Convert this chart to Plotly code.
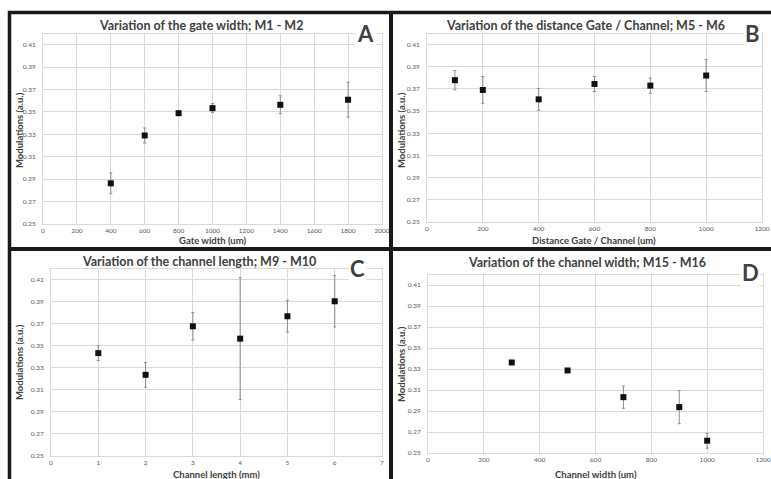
import plotly.graph_objects as go

W, H = 771, 479

# ---------------- data ----------------
a_x = [400, 600, 800, 1000, 1400, 1800]
a_y = [0.2863, 0.3290, 0.3489, 0.3534, 0.3564, 0.3609]
a_err = [0.0093, 0.0067, 0.0010, 0.0040, 0.0080, 0.0155]

b_x = [100, 200, 400, 600, 800, 1000]
b_y = [0.3779, 0.3691, 0.3606, 0.3745, 0.3730, 0.3821]
b_err = [0.0087, 0.0120, 0.0099, 0.0068, 0.0068, 0.0144]

c_x = [1, 2, 3, 4, 5, 6]
c_y = [0.3433, 0.3236, 0.3676, 0.3564, 0.3767, 0.3903]
c_err = [0.0067, 0.0112, 0.0124, 0.0553, 0.0144, 0.0233]

d_x = [300, 500, 700, 900, 1000]
d_y = [0.3362, 0.3286, 0.3032, 0.2937, 0.2617]
d_err = [0.0010, 0.0010, 0.0106, 0.0158, 0.0071]

titles = ["Variation of the gate width; M1 - M2",
          "Variation of the distance Gate / Channel; M5 - M6",
          "Variation of the channel length; M9 - M10",
          "Variation of the channel width; M15 - M16"]
letters = ["A", "B", "C", "D"]
x_titles = ["Gate width (um)", "Distance Gate / Channel (um)",
            "Channel length (mm)", "Channel width (um)"]
y_title = "Modulations (a.u.)"
x_ranges = [(0, 2000, 200), (0, 1200, 200), (0, 7, 1), (0, 1200, 200)]
y_range = (0.25, 0.42)
y_ticks = [0.25, 0.27, 0.29, 0.31, 0.33, 0.35, 0.37, 0.39, 0.41]

# ---------------- layout helpers ----------------
def fx(px):
    return px / W

def fy(py):
    return 1 - py / H

# plot-area boxes in pixels: left, right, top, bottom
boxes = [(43, 382, 33.5, 224), (427, 762, 33.5, 222),
         (51, 382, 268.5, 456), (428, 763, 274.5, 453)]
title_pos = [(201, 25), (585, 25), (199, 261), (587, 262)]
letter_pos = [(365, 34), (752, 34), (357, 268), (750, 272)]
xt_pos = [(213, 240.5), (594, 240.5), (216, 474), (596, 474)]
yt_pos = [(19, 130), (401, 130), (19, 362), (401, 364)]

FONT = "Lato"
TXT = "#404040"
GRID = "#d9d9d9"

fig = go.Figure()
series = [(a_x, a_y, a_err), (b_x, b_y, b_err), (c_x, c_y, c_err), (d_x, d_y, d_err)]
for i, (xs, ys, es) in enumerate(series):
    sfx = "" if i == 0 else str(i + 1)
    fig.add_trace(go.Scatter(
        x=xs, y=ys, mode="markers",
        marker=dict(symbol="square", size=6, color="#111111"),
        error_y=dict(type="data", array=es, visible=True, color="#8c8c8c",
                     thickness=1, width=1.5),
        xaxis="x" + sfx, yaxis="y" + sfx, showlegend=False, cliponaxis=False))

layout = dict(width=W, height=H, margin=dict(l=0, r=0, t=0, b=0, autoexpand=False),
              paper_bgcolor="white", plot_bgcolor="white",
              font=dict(family=FONT, color="#595959"))
annotations = []
shapes = []
for i in range(4):
    sfx = "" if i == 0 else str(i + 1)
    l, r, t, b = boxes[i]
    x0, x1, dx = x_ranges[i]
    xticks = [x0 + k * dx for k in range(int(round((x1 - x0) / dx)) + 1)]
    layout["xaxis" + sfx] = dict(
        domain=[fx(l), fx(r)], range=[x0, x1], anchor="y" + sfx,
        tickvals=xticks, ticktext=[str(v) for v in xticks],
        showgrid=True, gridcolor=GRID, gridwidth=1, zeroline=False,
        showline=True, linecolor=GRID, linewidth=1, mirror=True,
        ticks="", tickfont=dict(size=6.5, color="#595959"), ticklabelstandoff=0)
    layout["yaxis" + sfx] = dict(
        domain=[fy(b), fy(t)], range=list(y_range), anchor="x" + sfx,
        tickvals=y_ticks, ticktext=["%.2f" % v for v in y_ticks],
        showgrid=True, gridcolor=GRID, gridwidth=1, zeroline=False,
        showline=True, linecolor=GRID, linewidth=1, mirror=True,
        ticks="", tickfont=dict(size=6.5, color="#595959"), ticklabelstandoff=5)
    tx, ty = title_pos[i]
    annotations.append(dict(text="<b>" + titles[i] + "</b>", x=fx(tx), y=fy(ty),
                            xref="paper", yref="paper", showarrow=False,
                            xanchor="center", yanchor="middle",
                            font=dict(family=FONT, size=12.5, color=TXT)))
    lx, ly = letter_pos[i]
    annotations.append(dict(text="<b>" + letters[i] + "</b>", x=fx(lx), y=fy(ly),
                            xref="paper", yref="paper", showarrow=False,
                            xanchor="center", yanchor="middle", bgcolor="white",
                            font=dict(family=FONT, size=22, color="#404040")))
    ax_, ay_ = xt_pos[i]
    annotations.append(dict(text="<b>" + x_titles[i] + "</b>", x=fx(ax_), y=fy(ay_),
                            xref="paper", yref="paper", showarrow=False,
                            xanchor="center", yanchor="middle",
                            font=dict(family=FONT, size=9.5, color=TXT)))
    yx, yy = yt_pos[i]
    annotations.append(dict(text="<b>" + y_title + "</b>", x=fx(yx), y=fy(yy),
                            xref="paper", yref="paper", showarrow=False, textangle=-90,
                            xanchor="center", yanchor="middle",
                            font=dict(family=FONT, size=9.5, color=TXT)))

# black panel frame lines
frame = [(8, 12.5, W, 12.5, 3.5), (9.5, 11, 9.5, H, 3.5),
         (391, 11, 391, H, 4), (8, 249, W, 249, 4)]
for x0p, y0p, x1p, y1p, wd in frame:
    shapes.append(dict(type="line", xref="paper", yref="paper",
                       x0=fx(x0p), y0=fy(y0p), x1=fx(x1p), y1=fy(y1p),
                       line=dict(color="#1a1a1a", width=wd)))

layout["annotations"] = annotations
layout["shapes"] = shapes
fig.update_layout(**layout)
fig.write_html("out.html", config={"displayModeBar": False},
               post_script="document.body.style.margin='0';document.body.style.overflow='hidden';")
